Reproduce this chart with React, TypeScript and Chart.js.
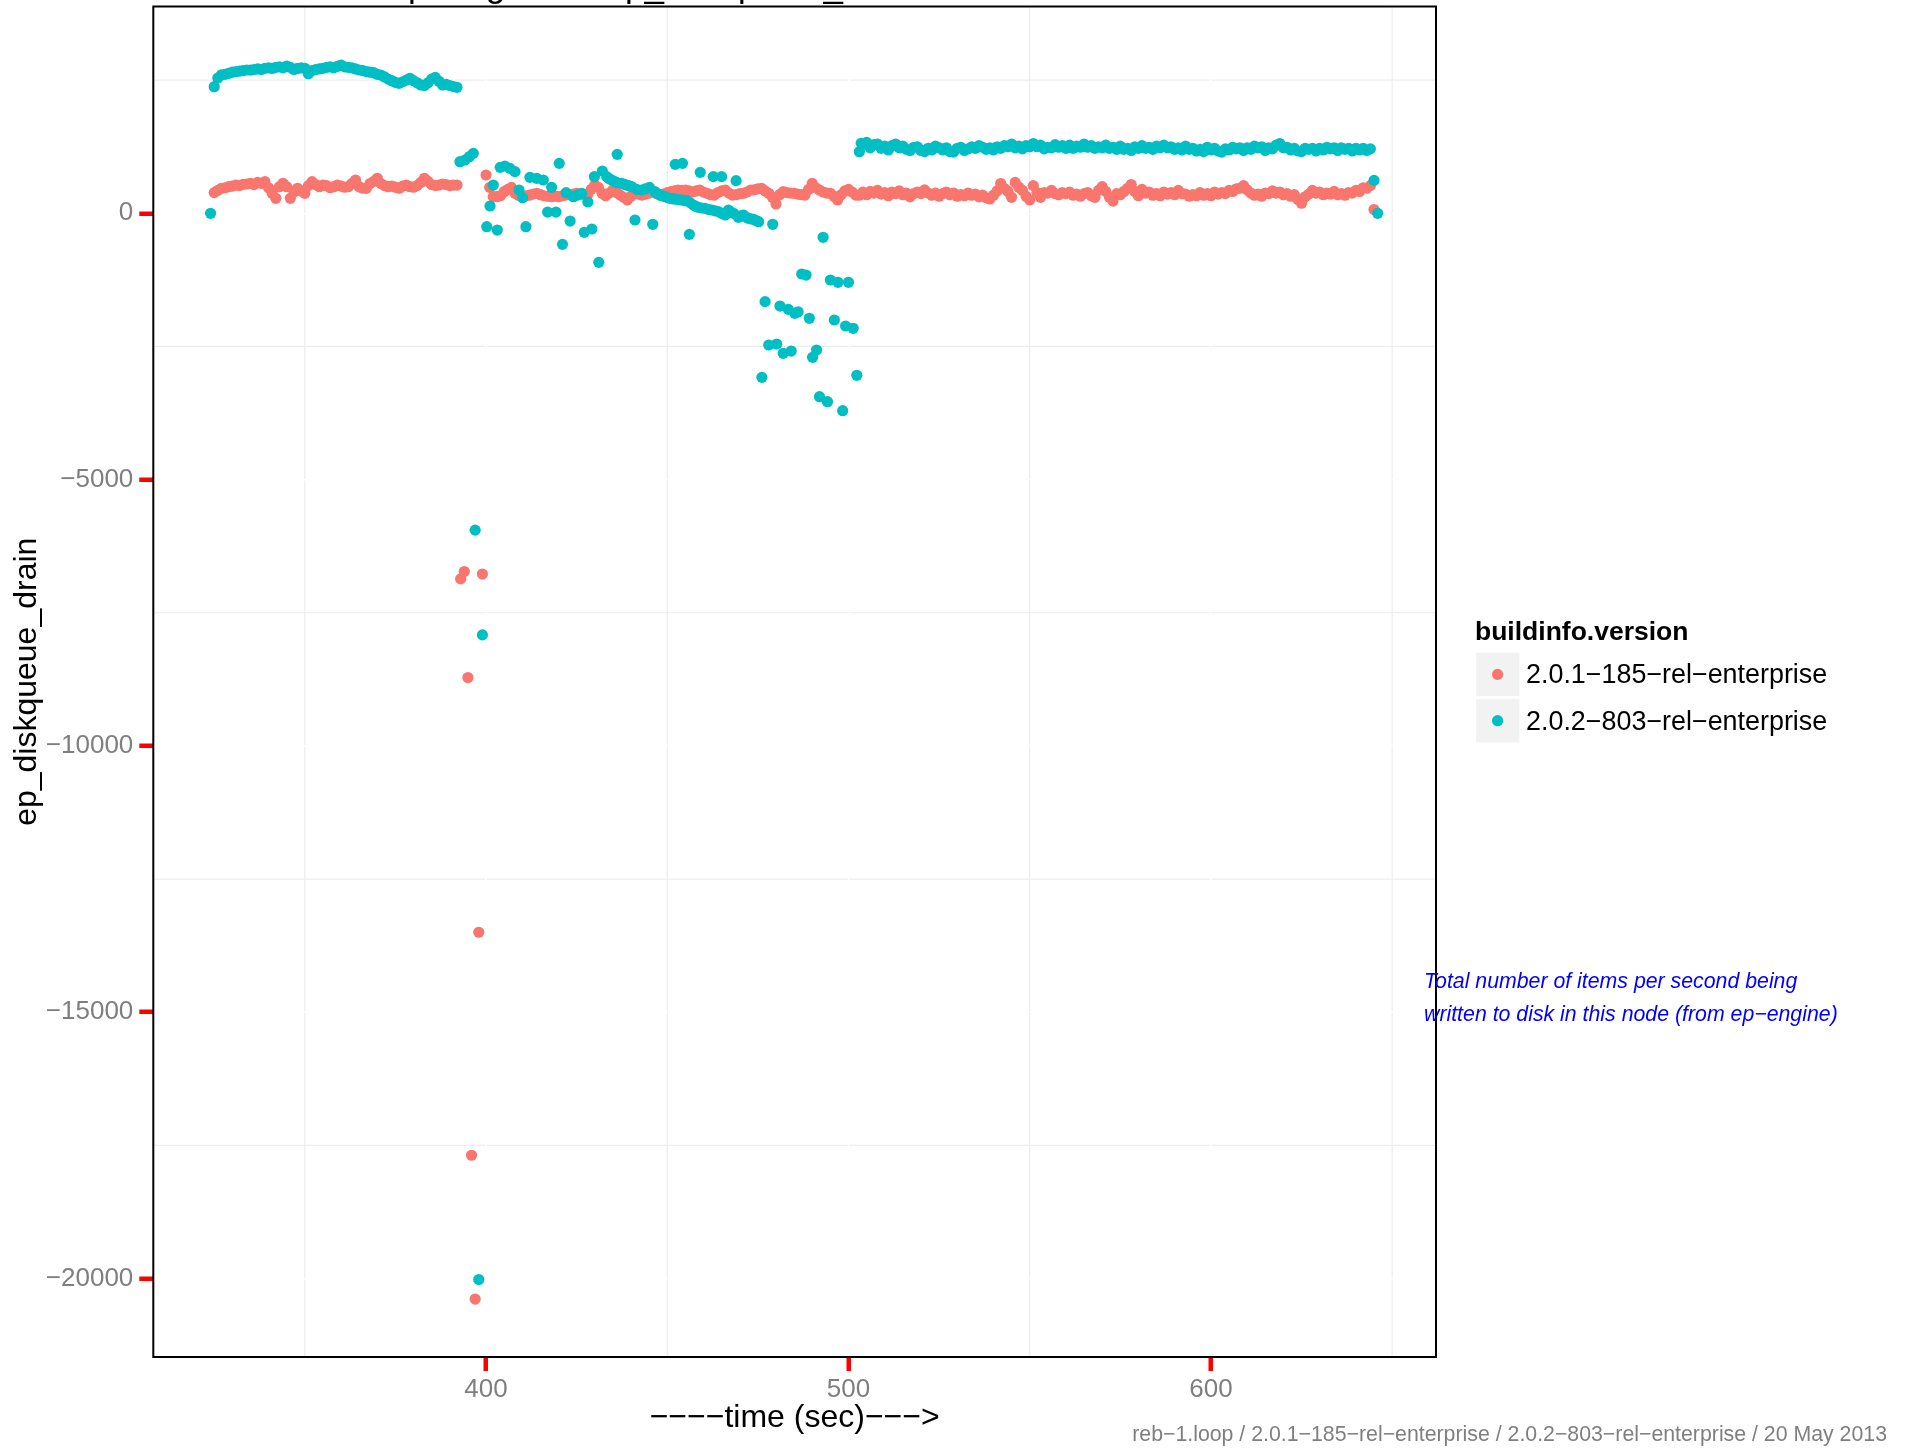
import React, { useEffect, useRef } from 'react';
import { Chart, registerables } from 'chart.js';

Chart.register(...registerables);

const seriesNames = ['2.0.1−185−rel−enterprise', '2.0.2−803−rel−enterprise'];
const seriesColors = ['#F8766D', '#00BFC4'];
const legendTitle = 'buildinfo.version';
const xTitle = '−−−−time (sec)−−−>';
const yTitle = 'ep_diskqueue_drain';
const noteLines = ['Total number of items per second being', 'written to disk in this node (from ep−engine)'];
const footer = 'reb−1.loop / 2.0.1−185−rel−enterprise / 2.0.2−803−rel−enterprise / 20 May 2013';
const xTicks = [400, 500, 600];
const yTicks = [-20000, -15000, -10000, -5000, 0];
const xMinorGrid = [350, 450, 550, 650];
const yMinorGrid = [2500, -2500, -7500, -12500, -17500];

// 2.0.1-185 (red): [time sec, ep_diskqueue_drain]
const redBand1: Array<[number, number]> = [
  [325, 389], [326, 430], [327, 470], [328, 480], [329, 500], [330, 510], [331, 530], [332, 520], [333, 545],
  [334, 550], [335, 563], [336, 540], [337, 580], [338, 560], [339, 594], [340, 480], [341, 375], [342, 282],
  [343, 500], [344, 563], [345, 500], [346, 282], [347, 400], [348, 470], [349, 420], [350, 375], [351, 520],
  [352, 594], [353, 540], [354, 500], [355, 530], [356, 520], [357, 480], [358, 500], [359, 530], [360, 510],
  [361, 490], [362, 500], [363, 560], [364, 625], [365, 500], [366, 470], [367, 469], [368, 560], [369, 600],
  [370, 657], [371, 560], [372, 520], [373, 500], [374, 510], [375, 490], [376, 470], [377, 510], [378, 530],
  [379, 500], [380, 490], [381, 520], [382, 580], [383, 657], [384, 600], [385, 540], [386, 520], [387, 531],
  [388, 550], [389, 540], [390, 520], [391, 531], [392, 531],
];
const redDrop: Array<[number, number]> = [
  [393, -6864], [394, -6727], [395, -8717], [396, -17686], [397, -20386], [398, -13499], [399, -6773],
];
const redBand2: Array<[number, number]> = [
  [400, 719], [401, 487], [402, 312], [403, 312], [404, 330], [405, 406], [406, 450], [407, 487], [408, 375],
  [409, 340], [410, 312], [411, 330], [412, 343], [413, 360], [414, 375], [415, 350], [416, 330], [417, 320],
  [418, 312], [419, 320], [420, 312], [421, 330], [422, 343], [423, 350], [424, 360], [425, 375], [426, 360],
  [427, 350], [428, 343], [429, 450], [430, 531], [431, 487], [432, 375], [433, 331], [434, 380], [435, 437],
  [436, 390], [437, 343], [438, 300], [439, 250], [440, 320], [441, 375], [442, 360], [443, 343], [444, 360],
  [445, 380], [446, 406], [447, 370], [448, 343], [449, 360], [450, 390], [451, 406], [452, 420], [453, 437],
  [454, 430], [455, 437], [456, 420], [457, 400], [458, 420], [459, 437], [460, 400], [461, 375], [462, 350],
  [463, 343], [464, 390], [465, 420], [466, 437], [467, 380], [468, 343], [469, 350], [470, 370], [471, 375],
  [472, 400], [473, 437], [474, 440], [475, 460], [476, 469], [477, 420], [478, 375], [479, 300], [480, 175],
  [481, 350], [482, 406], [483, 390], [484, 380], [485, 375], [486, 360], [487, 350], [488, 343], [489, 450],
  [490, 562], [491, 480], [492, 437], [493, 400], [494, 380], [495, 375], [496, 320], [497, 250], [498, 350],
  [499, 420], [500, 450], [501, 400], [502, 343],
];
const redBand3: Array<[number, number]> = [
  [503, 340], [504, 400], [505, 350], [506, 410], [507, 380], [508, 430], [509, 360], [510, 390], [511, 330],
  [512, 400], [513, 370], [514, 420], [515, 350], [516, 380], [517, 310], [518, 370], [519, 400], [520, 370],
  [521, 440], [522, 380], [523, 340], [524, 380], [525, 320], [526, 370], [527, 400], [528, 350], [529, 380],
  [530, 320], [531, 350], [532, 330], [533, 380], [534, 340], [535, 360], [536, 310], [537, 340], [538, 290],
  [539, 270], [540, 340], [541, 420], [542, 560], [543, 470], [544, 410], [545, 300], [546, 580], [547, 490],
  [548, 430], [549, 320], [550, 250], [551, 520], [552, 390], [553, 300], [554, 390], [555, 380], [556, 430],
  [557, 370], [558, 350], [559, 390], [560, 370], [561, 400], [562, 340], [563, 360], [564, 320], [565, 370],
  [566, 390], [567, 330], [568, 300], [569, 430], [570, 500], [571, 410], [572, 300], [573, 230], [574, 370],
  [575, 350], [576, 410], [577, 470], [578, 540], [579, 410], [580, 330], [581, 450], [582, 380], [583, 400],
  [584, 340], [585, 370], [586, 330], [587, 400], [588, 360], [589, 390], [590, 350], [591, 430], [592, 370],
  [593, 360], [594, 320], [595, 350], [596, 330], [597, 390], [598, 340], [599, 370], [600, 330], [601, 400],
  [602, 360], [603, 390], [604, 370], [605, 430], [606, 410], [607, 460], [608, 470], [609, 520], [610, 440],
  [611, 380], [612, 340], [613, 360], [614, 320], [615, 380], [616, 370], [617, 420], [618, 380], [619, 400],
  [620, 350], [621, 370], [622, 320], [623, 350], [624, 260], [625, 190], [626, 310], [627, 360], [628, 430],
  [629, 380], [630, 400], [631, 350], [632, 380], [633, 360], [634, 410], [635, 350], [636, 370], [637, 340],
  [638, 390], [639, 380], [640, 430], [641, 410], [642, 480], [643, 470], [644, 520], [645, 70],
];

// 2.0.2-803 (teal)
const tealBand1: Array<[number, number]> = [
  [324, 0], [325, 2377], [326, 2540], [327, 2600], [328, 2610], [329, 2629], [330, 2650], [331, 2660],
  [332, 2670], [333, 2680], [334, 2691], [335, 2690], [336, 2700], [337, 2710], [338, 2700], [339, 2722],
  [340, 2730], [341, 2720], [342, 2740], [343, 2750], [344, 2730], [345, 2766], [346, 2740], [347, 2700],
  [348, 2720], [349, 2730], [350, 2722], [351, 2620], [352, 2680], [353, 2700], [354, 2710], [355, 2722],
  [356, 2740], [357, 2750], [358, 2730], [359, 2760], [360, 2784], [361, 2750], [362, 2740], [363, 2730],
  [364, 2710], [365, 2691], [366, 2680], [367, 2660], [368, 2650], [369, 2640], [370, 2610], [371, 2597],
  [372, 2560], [373, 2520], [374, 2490], [375, 2460], [376, 2441], [377, 2470], [378, 2500], [379, 2535],
  [380, 2490], [381, 2450], [382, 2410], [383, 2400], [384, 2450], [385, 2520], [386, 2553], [387, 2480],
  [388, 2409], [389, 2420], [390, 2400], [391, 2380], [392, 2366],
  [392.8, 969], [394.2, 1001], [395.4, 1063], [396.5, 1126],
];
const tealDrop: Array<[number, number]> = [
  [397, -5949], [398, -20020], [399, -7916],
];
const tealMiddle: Array<[number, number]> = [
  [400.2, -251], [401.1, 137], [402, 531], [403.1, -314], [403.9, 863], [405.2, 888], [406.6, 844], [408, 782],
  [409.1, 437], [410.1, 293], [411, -251], [412.1, 675], [414, 656], [415.8, 625], [417, 24], [418.1, 487],
  [419.3, 24], [420.2, 938], [421.1, -583], [422.1, 387], [423.2, -145], [424.1, 312], [425.2, 343], [426.4, 375],
  [427.1, -358], [428.1, 212], [429.2, -295], [429.9, 688], [431.1, -921], [432.1, 794], [433.3, 688], [434, 650],
  [434.7, 625], [435.4, 600], [436.1, 575], [436.2, 1107], [437.4, 563], [438.1, 545], [438.8, 531], [439.5, 515],
  [440.2, 500], [441.1, -126], [441.6, 450], [442.9, 437], [444, 460], [445.1, 487], [446, -207], [446.6, 406],
  [447.3, 370], [448, 343], [448.7, 330], [449.4, 312], [450.1, 295], [450.8, 281], [451.7, 270], [452.2, 919],
  [452.6, 262], [453.3, 255], [454, 250], [454.2, 938], [454.7, 243], [455.4, 237], [456.1, -395], [456.3, 200],
  [457.2, 156], [457.9, 130], [458.6, 112], [459.1, 769], [459.5, 100], [460.4, 93], [461.3, 75], [462.3, 62],
  [462.7, 688], [463.2, 45], [464.1, 31], [465, 688], [465, 0], [466, -32], [466.9, 62], [467.6, 20], [468.3, 0],
  [469, 613], [469.6, -76], [470.3, -50], [471, -32], [471.7, -70], [472.4, -95], [473.1, -105], [473.8, -113],
  [474.5, -135], [475.2, -157], [476.1, -3080], [477, -1659], [478, -2473], [479.1, -207], [480.2, -2454],
  [481.1, -1741], [482, -2629], [483.4, -1803], [484.2, -2586], [485.2, -1878], [486.1, -1848], [487.1, -1140],
  [488.3, -1159], [489.2, -1972], [490.1, -2704], [491.2, -2567], [492, -3443], [493, -451], [494.2, -3537],
  [495, -1252], [496.1, -2003], [497.1, -1296], [498.4, -3706], [499.2, -2116], [500, -1296], [501.3, -2159],
  [502.3, -3042],
];
const tealBand2: Array<[number, number]> = [
  [503, 1157], [503.5, 1314], [504, 1280], [505, 1330], [506, 1230], [507, 1290], [508, 1300], [509, 1220],
  [510, 1260], [511, 1190], [512, 1270], [513, 1300], [514, 1230], [515, 1260], [516, 1200], [517, 1180],
  [518, 1240], [519, 1250], [520, 1180], [521, 1160], [522, 1220], [523, 1190], [524, 1260], [525, 1230],
  [526, 1190], [527, 1230], [528, 1160], [529, 1150], [530, 1220], [531, 1240], [532, 1180], [533, 1210],
  [534, 1250], [535, 1220], [536, 1270], [537, 1240], [538, 1200], [539, 1230], [540, 1190], [541, 1250],
  [542, 1220], [543, 1270], [544, 1250], [545, 1300], [546, 1230], [547, 1260], [548, 1210], [549, 1270],
  [550, 1250], [551, 1310], [552, 1250], [553, 1280], [554, 1210], [555, 1240], [556, 1230], [557, 1290],
  [558, 1240], [559, 1270], [560, 1220], [561, 1280], [562, 1220], [563, 1260], [564, 1240], [565, 1300],
  [566, 1240], [567, 1270], [568, 1220], [569, 1250], [570, 1230], [571, 1280], [572, 1220], [573, 1240],
  [574, 1200], [575, 1260], [576, 1200], [577, 1220], [578, 1180], [579, 1250], [580, 1220], [581, 1270],
  [582, 1220], [583, 1240], [584, 1200], [585, 1260], [586, 1230], [587, 1280], [588, 1230], [589, 1250],
  [590, 1200], [591, 1230], [592, 1190], [593, 1260], [594, 1200], [595, 1220], [596, 1170], [597, 1200],
  [598, 1160], [599, 1240], [600, 1190], [601, 1220], [602, 1170], [603, 1150], [604, 1210], [605, 1190],
  [606, 1240], [607, 1210], [608, 1230], [609, 1180], [610, 1230], [611, 1200], [612, 1260], [613, 1230],
  [614, 1250], [615, 1180], [616, 1230], [617, 1210], [618, 1280], [619, 1310], [620, 1230], [621, 1240],
  [622, 1190], [623, 1220], [624, 1170], [625, 1160], [626, 1220], [627, 1200], [628, 1220], [629, 1170],
  [630, 1220], [631, 1190], [632, 1240], [633, 1210], [634, 1230], [635, 1180], [636, 1230], [637, 1200],
  [638, 1220], [639, 1170], [640, 1220], [641, 1190], [642, 1220], [643, 1180], [644, 1210], [645, 618],
  [646, 0],
];

const FONT = '"Liberation Sans", Arial, Helvetica, sans-serif';

const toXY = (arr: Array<[number, number]>) => arr.map(([x, y]) => ({ x, y }));

const decorPlugin = {
  id: 'decor',
  beforeDraw(chart: any) {
    const { ctx, chartArea: a, scales } = chart;
    ctx.save();
    ctx.strokeStyle = '#EDEDED';
    ctx.lineWidth = 1.2;
    xMinorGrid.forEach((v) => {
      const px = scales.x.getPixelForValue(v);
      ctx.beginPath(); ctx.moveTo(px, a.top); ctx.lineTo(px, a.bottom); ctx.stroke();
    });
    yMinorGrid.forEach((v) => {
      const py = scales.y.getPixelForValue(v);
      ctx.beginPath(); ctx.moveTo(a.left, py); ctx.lineTo(a.right, py); ctx.stroke();
    });
    ctx.restore();
  },
  afterDatasetsDraw(chart: any) {
    const { ctx, chartArea: a } = chart;
    ctx.save();
    ctx.strokeStyle = '#000';
    ctx.lineWidth = 2;
    ctx.strokeRect(a.left, a.top, a.right - a.left, a.bottom - a.top);
    ctx.restore();
  },
  afterDraw(chart: any) {
    const { ctx, chartArea: a } = chart;
    ctx.save();
    // cut-off title (only descenders visible)
    ctx.fillStyle = '#000';
    ctx.font = `35px ${FONT}`;
    ctx.textBaseline = 'alphabetic';
    ctx.textAlign = 'left';
    ctx.fillText('Comparing', 408 - ctx.measureText('Com').width, -3.5);
    ctx.fillText('ep_diskqueue_drain', 625 - ctx.measureText('e').width, -3.5);

    // axis titles
    ctx.font = `32px ${FONT}`;
    ctx.textAlign = 'center';
    ctx.fillText(xTitle, (a.left + a.right) / 2, 1427);
    ctx.save();
    ctx.translate(36, (a.top + a.bottom) / 2);
    ctx.rotate(-Math.PI / 2);
    ctx.fillText(yTitle, 0, 0);
    ctx.restore();

    // legend
    ctx.textAlign = 'left';
    ctx.font = `bold 26.5px ${FONT}`;
    ctx.fillText(legendTitle, 1475, 640);
    ctx.font = `26.9px ${FONT}`;
    seriesNames.forEach((name, i) => {
      const top = 652.7 + i * 46.3;
      ctx.fillStyle = '#F2F2F2';
      ctx.fillRect(1476, top, 43.3, 43.3);
      ctx.fillStyle = seriesColors[i];
      ctx.beginPath();
      ctx.arc(1497.6, top + 21.7, 5.6, 0, Math.PI * 2);
      ctx.fill();
      ctx.fillStyle = '#000';
      ctx.fillText(name, 1526, top + 30.6);
    });

    // annotation
    ctx.fillStyle = '#0000FF';
    ctx.font = `italic 21.3px ${FONT}`;
    noteLines.forEach((line, i) => ctx.fillText(line, 1424, 988 + i * 32.5));

    // footer
    ctx.fillStyle = '#7F7F7F';
    ctx.font = `21.3px ${FONT}`;
    ctx.textAlign = 'right';
    ctx.fillText(footer, 1887, 1441);
    ctx.restore();
  },
};

export default function App() {
  const ref = useRef<HTMLCanvasElement | null>(null);

  useEffect(() => {
    if (!ref.current) return;
    const chart = new Chart(ref.current, {
      type: 'scatter',
      data: {
        datasets: [
          {
            label: seriesNames[0],
            data: toXY([...redBand1, ...redDrop, ...redBand2, ...redBand3]),
            backgroundColor: seriesColors[0],
            pointBackgroundColor: seriesColors[0],
            pointBorderWidth: 0,
            borderWidth: 0,
            pointRadius: 5.6,
            order: 1,
          },
          {
            label: seriesNames[1],
            data: toXY([...tealBand1, ...tealDrop, ...tealMiddle, ...tealBand2]),
            backgroundColor: seriesColors[1],
            pointBackgroundColor: seriesColors[1],
            pointBorderWidth: 0,
            borderWidth: 0,
            pointRadius: 5.6,
            order: 0,
          },
        ],
      },
      options: {
        animation: false,
        responsive: false,
        devicePixelRatio: 1,
        layout: { padding: { top: 6.5, right: 474, bottom: 0, left: 0 } },
        plugins: { legend: { display: false }, tooltip: { enabled: false }, title: { display: false } },
        scales: {
          x: {
            type: 'linear',
            min: 308.2,
            max: 662.1,
            afterFit: (s: any) => { s.height = 92; s.paddingLeft = 0; s.paddingRight = 0; },
            afterBuildTicks: (s: any) => { s.ticks = xTicks.map((v) => ({ value: v })); },
            grid: { color: '#FFFFFF', lineWidth: 1.5, tickColor: '#FF0000', tickWidth: 4.5, tickLength: 14 },
            border: { display: false },
            ticks: { color: '#7F7F7F', font: { size: 26, family: FONT }, padding: 3, maxRotation: 0, autoSkip: false },
          },
          y: {
            type: 'linear',
            min: -21474,
            max: 3883,
            afterFit: (s: any) => { s.width = 153.3; s.paddingTop = 0; s.paddingBottom = 0; },
            afterBuildTicks: (s: any) => { s.ticks = yTicks.map((v) => ({ value: v })); },
            grid: { color: '#FFFFFF', lineWidth: 1.5, tickColor: '#FF0000', tickWidth: 4.5, tickLength: 14 },
            border: { display: false },
            ticks: {
              color: '#7F7F7F',
              font: { size: 26, family: FONT },
              padding: 6,
              autoSkip: false,
              callback: (v: any) => (Number(v) < 0 ? '−' + Math.abs(Number(v)) : String(v)),
            },
          },
        },
      },
      plugins: [decorPlugin],
    } as any);
    return () => chart.destroy();
  }, []);

  return (
    <canvas
      ref={ref}
      width={1910}
      height={1449}
      style={{ position: 'fixed', left: 0, top: 0, width: 1910, height: 1449, display: 'block' }}
    />
  );
}
